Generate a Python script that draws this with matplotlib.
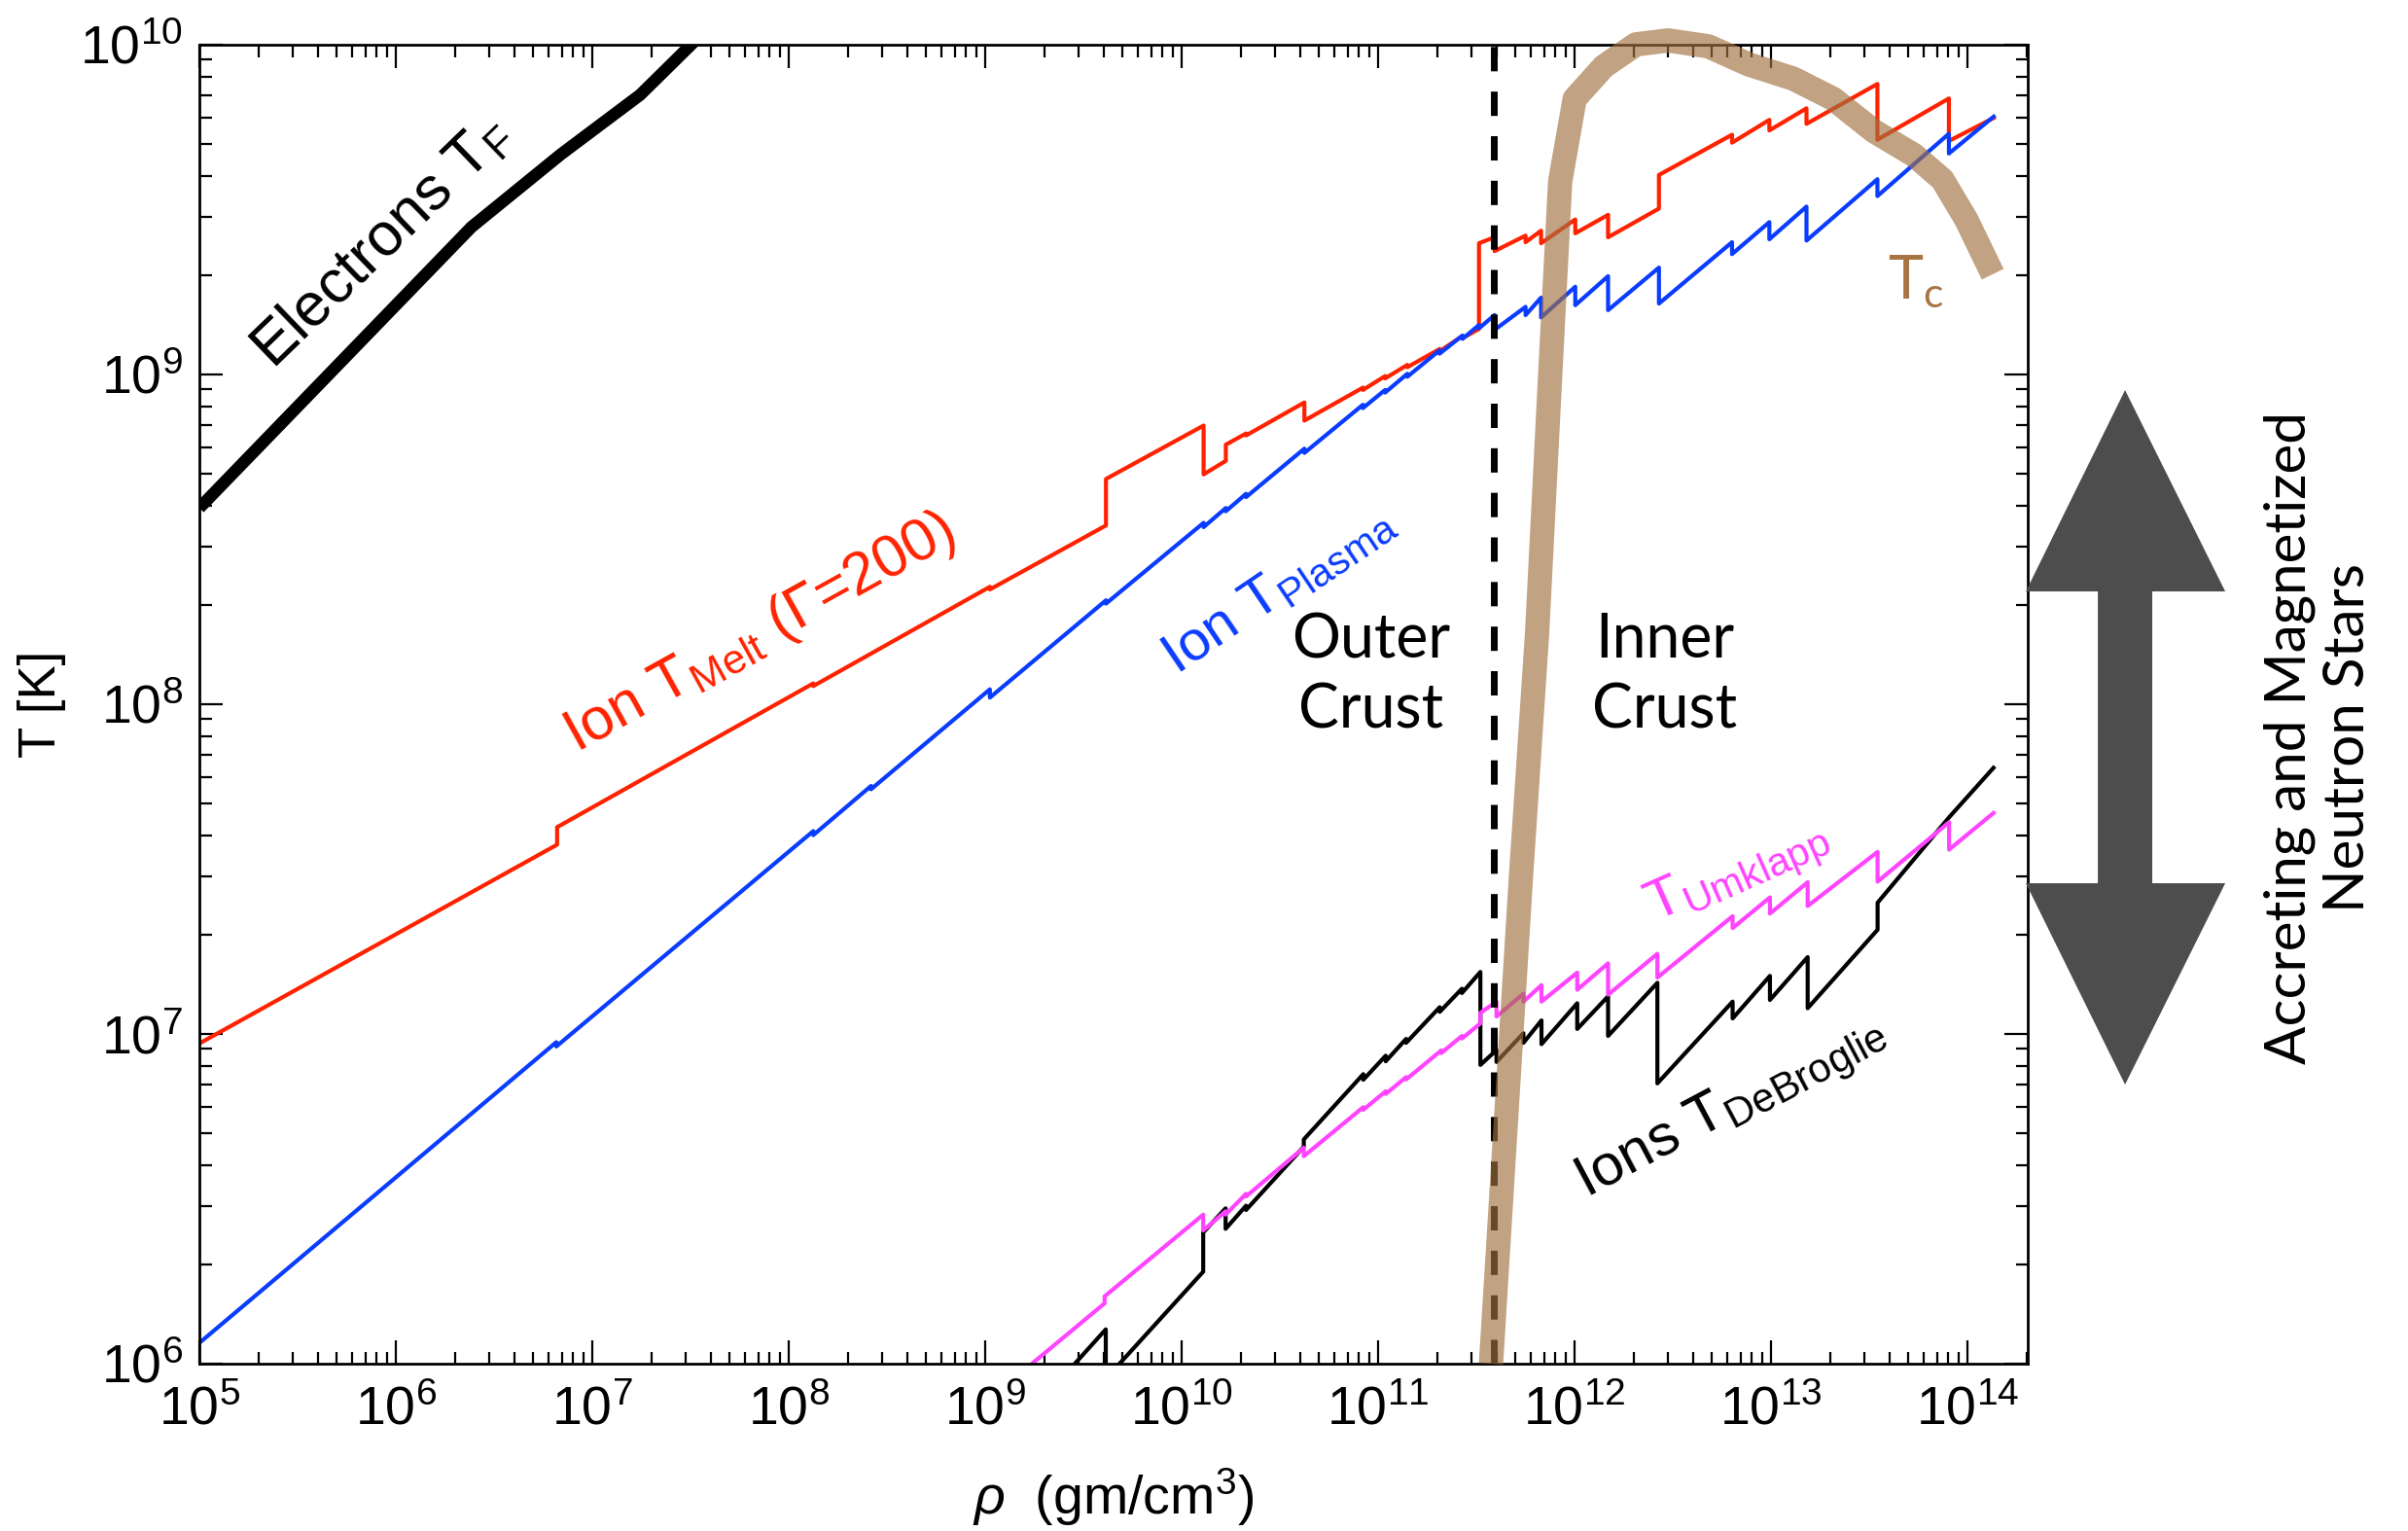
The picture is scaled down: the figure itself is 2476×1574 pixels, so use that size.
import numpy as np
import matplotlib.pyplot as plt
from matplotlib.ticker import LogLocator, NullFormatter
from matplotlib.patches import Polygon

plt.rcParams['font.family'] = ['Liberation Sans', 'DejaVu Sans']
plt.rcParams['mathtext.fontset'] = 'custom'
plt.rcParams['mathtext.rm'] = 'Liberation Sans'
plt.rcParams['mathtext.it'] = 'Liberation Sans:italic'

# -------------------------
# data (log10 rho [g/cm^3], log10 T [K])
# -------------------------
tf_logrho = [5.0, 6.385, 6.839, 7.244, 7.52]
tf_logT = [8.595, 9.447, 9.667, 9.848, 10.01]

melt_logrho = [5.0, 6.821, 6.821, 8.125, 8.125, 9.024, 9.024, 9.615, 9.615,
               10.112, 10.112, 10.225, 10.225, 10.328, 10.328, 10.625, 10.625,
               10.923, 10.923, 11.036, 11.036, 11.149, 11.149, 11.313, 11.313,
               11.430, 11.430, 11.514, 11.514, 11.593, 11.593, 11.751, 11.751,
               11.830, 11.830, 12.004, 12.004, 12.171, 12.171, 12.430, 12.430,
               12.802, 12.802, 12.992, 12.992, 13.181, 13.181, 13.542, 13.542,
               13.906, 13.906, 14.134]
melt_logT = [6.971, 7.574, 7.627, 8.063, 8.055, 8.356, 8.348, 8.542, 8.683,
             8.845, 8.697, 8.738, 8.787, 8.821, 8.815, 8.915, 8.860,
             8.960, 8.953, 8.995, 8.988, 9.029, 9.022, 9.077, 9.070,
             9.117, 9.110, 9.138, 9.398, 9.416, 9.374, 9.421, 9.401,
             9.436, 9.398, 9.470, 9.428, 9.484, 9.416, 9.503, 9.605,
             9.727, 9.703, 9.772, 9.740, 9.807, 9.760, 9.881, 9.712,
             9.837, 9.708, 9.778]

plasma_logrho = [5.0, 6.817, 6.817, 8.125, 8.125, 8.419, 8.419, 9.024, 9.024,
                 9.615, 9.615, 10.112, 10.112, 10.225, 10.225, 10.328, 10.328,
                 10.625, 10.625, 10.923, 10.923, 11.036, 11.036, 11.149, 11.149,
                 11.313, 11.313, 11.430, 11.430, 11.514, 11.514, 11.593, 11.593,
                 11.751, 11.751, 11.830, 11.830, 12.004, 12.004, 12.171, 12.171,
                 12.430, 12.430, 12.802, 12.802, 12.992, 12.992, 13.181, 13.181,
                 13.542, 13.542, 13.906, 13.906, 14.134]
plasma_logT = [6.063, 6.975, 6.962, 7.615, 7.603, 7.752, 7.742, 8.045, 8.020,
               8.315, 8.305, 8.550, 8.537, 8.595, 8.585, 8.638, 8.628,
               8.775, 8.762, 8.908, 8.898, 8.953, 8.945, 9.002, 8.993,
               9.073, 9.063, 9.118, 9.108, 9.150, 9.140, 9.180, 9.135,
               9.205, 9.180, 9.233, 9.173, 9.266, 9.210, 9.298, 9.195,
               9.324, 9.215, 9.401, 9.365, 9.462, 9.410, 9.509, 9.406,
               9.592, 9.541, 9.730, 9.670, 9.782]

umk_logrho = [9.2, 9.608, 9.608, 10.110, 10.110, 10.224, 10.224, 10.328, 10.328,
              10.622, 10.622, 10.925, 10.925, 11.039, 11.039, 11.143, 11.143,
              11.322, 11.322, 11.427, 11.427, 11.521, 11.521, 11.603, 11.603,
              11.740, 11.740, 11.832, 11.832, 12.014, 12.014, 12.171, 12.171,
              12.422, 12.422, 12.805, 12.805, 12.995, 12.995, 13.187, 13.187,
              13.543, 13.543, 13.907, 13.907, 14.133]
umk_logT = [5.981, 6.183, 6.204, 6.452, 6.404, 6.462, 6.452, 6.515, 6.507,
            6.655, 6.629, 6.778, 6.770, 6.826, 6.818, 6.869, 6.862,
            6.950, 6.942, 6.994, 6.986, 7.032, 7.064, 7.098, 7.053,
            7.122, 7.098, 7.148, 7.098, 7.186, 7.134, 7.214, 7.119,
            7.243, 7.171, 7.357, 7.321, 7.414, 7.365, 7.460, 7.388,
            7.552, 7.462, 7.642, 7.559, 7.670]

db_logrho = [9.2, 9.614, 9.614, 10.110, 10.110, 10.224, 10.224, 10.328, 10.328,
             10.622, 10.622, 10.925, 10.925, 11.039, 11.039, 11.143, 11.143,
             11.314, 11.314, 11.427, 11.427, 11.521, 11.521, 11.603, 11.603,
             11.740, 11.740, 11.832, 11.832, 12.014, 12.014, 12.171, 12.171,
             12.422, 12.422, 12.805, 12.805, 12.995, 12.995, 13.187, 13.187,
             13.543, 13.543, 13.907, 14.133]
db_logT = [5.830, 6.104, 5.954, 6.279, 6.398, 6.471, 6.409, 6.479, 6.466,
           6.658, 6.680, 6.878, 6.861, 6.934, 6.917, 6.985, 6.973,
           7.081, 7.067, 7.137, 7.124, 7.188, 6.906, 6.951, 6.915,
           7.002, 6.973, 7.041, 6.969, 7.093, 7.015, 7.114, 6.994,
           7.155, 6.850, 7.098, 7.047, 7.176, 7.103, 7.233, 7.078,
           7.316, 7.398, 7.657, 7.807]

tc_logrho = [11.575, 11.728, 11.810, 11.869, 11.927, 12.001, 12.149, 12.313,
             12.477, 12.682, 12.888, 13.114, 13.317, 13.524, 13.729, 13.873,
             13.995, 14.129]
tc_logT = [6.0, 7.481, 8.218, 8.913, 9.585, 9.836, 9.934, 10.001,
           10.013, 9.995, 9.940, 9.897, 9.836, 9.738, 9.665, 9.591,
           9.469, 9.304]

rho_drip = 3.9e11

xticks = [1e5, 1e6, 1e7, 1e8, 1e9, 1e10, 1e11, 1e12, 1e13, 1e14]
yticks = [1e6, 1e7, 1e8, 1e9, 1e10]


def p(v):
    return np.power(10.0, np.asarray(v))


# -------------------------
# figure
# -------------------------
fig = plt.figure(figsize=(24.76, 15.74), dpi=100)
ax = fig.add_axes([0.0828, 0.1093, 0.7593, 0.8615])
ax.set_xscale('log')
ax.set_yscale('log')

ax.plot(p(tf_logrho), p(tf_logT), color='black', lw=9, solid_capstyle='butt')
ax.plot(p(melt_logrho), p(melt_logT), color='#FF2200', lw=3)
ax.plot(p(plasma_logrho), p(plasma_logT), color='#0A3CFF', lw=3)
ax.plot(p(db_logrho), p(db_logT), color='black', lw=3)
ax.plot(p(umk_logrho), p(umk_logT), color='#FF44FF', lw=3)
ax.axvline(rho_drip, color='black', lw=5, linestyle=(0, (3.6, 3.0)))
ax.plot(p(tc_logrho), p(tc_logT), color='#A0703F', alpha=0.65, lw=18,
        solid_capstyle='butt', clip_on=False, zorder=5)

ax.set_xlim(1e5, 2.03e14)
ax.set_ylim(1e6, 1e10)
ax.set_xticks(xticks)
ax.set_yticks(yticks)
ax.xaxis.set_minor_locator(LogLocator(base=10, subs=np.arange(2, 10), numticks=100))
ax.yaxis.set_minor_locator(LogLocator(base=10, subs=np.arange(2, 10), numticks=100))
ax.xaxis.set_minor_formatter(NullFormatter())
ax.yaxis.set_minor_formatter(NullFormatter())
ax.tick_params(which='both', direction='in', top=True, right=True, width=1.6)
ax.tick_params(which='major', length=17, labelsize=40)
ax.tick_params(axis='x', which='major', pad=16)
ax.tick_params(axis='y', which='major', pad=12)
ax.tick_params(which='minor', length=9)
for s in ax.spines.values():
    s.set_linewidth(2)

ax.set_xlabel(r'$\rho$  (gm/cm$^3$)', fontsize=40)
ax.xaxis.set_label_coords(0.5, -0.078)
ax.set_ylabel('T [K]', fontsize=38)
ax.yaxis.set_label_coords(-0.073, 0.5)

# curve labels
ax.text(p(5.93), p(9.40), r'Electrons T$_{\mathregular{F}}$', fontsize=45,
        rotation=44, rotation_mode='anchor', ha='center', va='center')
ax.text(p(7.856), p(8.215), r'Ion T$_{\mathregular{Melt}}$ ($\mathregular{\Gamma}$=200)',
        fontsize=44, color='#FF2200', rotation=29, rotation_mode='anchor',
        ha='center', va='center')
ax.text(p(10.49), p(8.351), r'Ion T$_{\mathregular{Plasma}}$', fontsize=42,
        color='#0A3CFF', rotation=34, rotation_mode='anchor', ha='center', va='center')
ax.text(p(12.83), p(7.490), r'T$_{\mathregular{Umklapp}}$', fontsize=42,
        color='#FF44FF', rotation=24, rotation_mode='anchor', ha='center', va='center')
ax.text(p(12.80), p(6.775), r'Ions T$_{\mathregular{DeBroglie}}$', fontsize=43,
        rotation=28, rotation_mode='anchor', ha='center', va='center')
ax.text(p(10.965), p(8.088), 'Outer\nCrust', family='Lato', fontsize=45,
        ha='center', va='center', linespacing=1.3)
ax.text(p(12.46), p(8.088), 'Inner\nCrust', family='Lato', fontsize=45,
        ha='center', va='center', linespacing=1.3)
ax.text(p(13.738), p(9.28), r'T$_{\mathregular{c}}$', family='Lato', fontsize=44,
        color='#A87443', ha='center', va='center')

# double arrow to the right of the axes (figure fraction)
arrow_xy = [(0.8825, 0.7452), (0.9241, 0.6137), (0.8938, 0.6137), (0.8938, 0.4231),
            (0.9241, 0.4231), (0.8825, 0.2916), (0.8413, 0.4231), (0.8712, 0.4231),
            (0.8712, 0.6137), (0.8413, 0.6137)]
fig.patches.append(Polygon(arrow_xy, closed=True, transform=fig.transFigure,
                           facecolor='#4D4D4D', edgecolor='none'))
fig.text(0.963, 0.518, 'Accreting and Magnetized\nNeutron Stars', family='Lato',
         fontsize=42, rotation=90, ha='center', va='center', linespacing=1.15)

fig.savefig('out.png', dpi=100)
